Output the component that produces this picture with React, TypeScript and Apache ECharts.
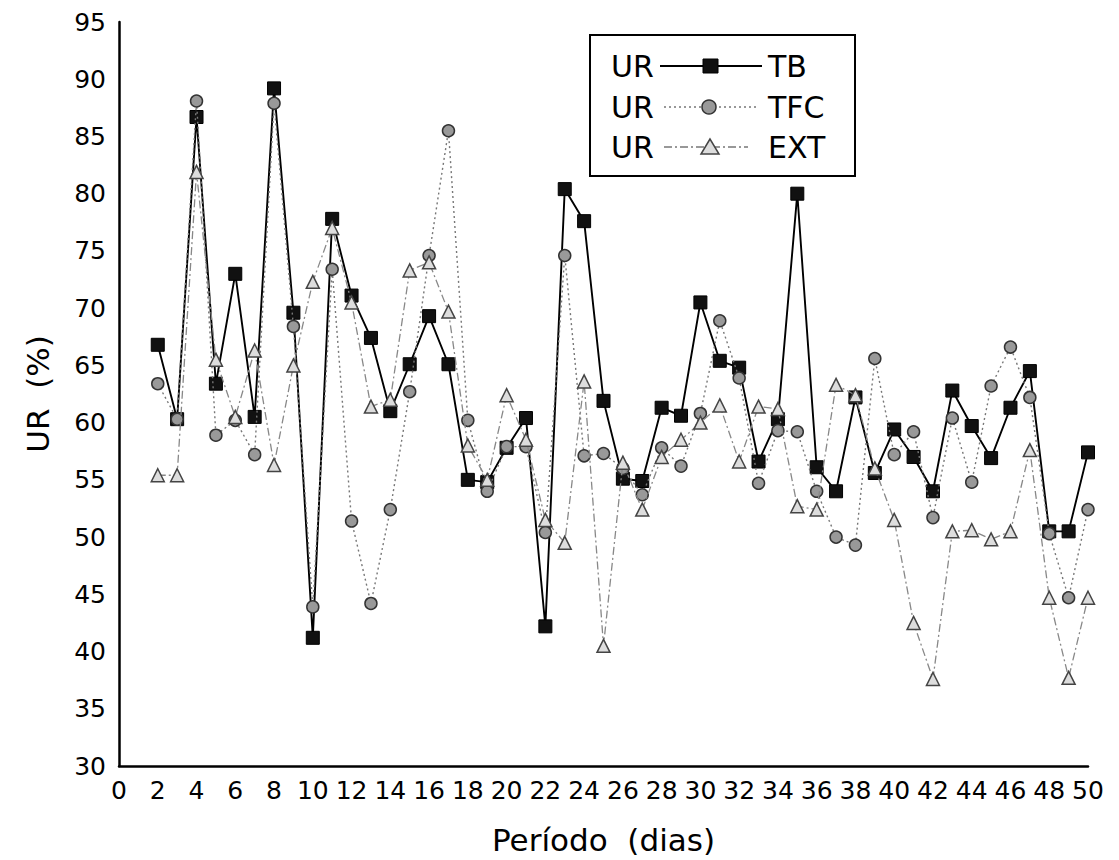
import React, { useEffect, useRef } from "react";
import * as echarts from "echarts";

const days = [2, 3, 4, 5, 6, 7, 8, 9, 10, 11, 12, 13, 14, 15, 16, 17, 18, 19, 20, 21, 22, 23, 24, 25, 26, 27, 28, 29, 30, 31, 32, 33, 34, 35, 36, 37, 38, 39, 40, 41, 42, 43, 44, 45, 46, 47, 48, 49, 50];

const urTB = [66.8, 60.3, 86.7, 63.4, 73.0, 60.5, 89.2, 69.6, 41.2, 77.8, 71.1, 67.4, 61.0, 65.1, 69.3, 65.1, 55.0, 54.8, 57.8, 60.4, 42.2, 80.4, 77.6, 61.9, 55.1, 54.9, 61.3, 60.6, 70.5, 65.4, 64.8, 56.6, 60.3, 80.0, 56.1, 54.0, 62.2, 55.6, 59.4, 57.0, 54.0, 62.8, 59.7, 56.9, 61.3, 64.5, 50.5, 50.5, 57.4];

const urTFC = [63.4, 60.3, 88.1, 58.9, 60.2, 57.2, 87.9, 68.4, 43.9, 73.4, 51.4, 44.2, 52.4, 62.7, 74.6, 85.5, 60.2, 54.0, 57.9, 57.9, 50.4, 74.6, 57.1, 57.3, 56.0, 53.7, 57.8, 56.2, 60.8, 68.9, 63.9, 54.7, 59.3, 59.2, 54.0, 50.0, 49.3, 65.6, 57.2, 59.2, 51.7, 60.4, 54.8, 63.2, 66.6, 62.2, 50.3, 44.7, 52.4];

const urEXT = [55.4, 55.4, 81.9, 65.5, 60.5, 66.3, 56.3, 65.0, 72.3, 77.0, 70.5, 61.4, 62.0, 73.3, 74.0, 69.7, 58.0, 55.0, 62.4, 58.5, 51.5, 49.5, 63.6, 40.5, 56.5, 52.4, 57.0, 58.5, 60.0, 61.5, 56.6, 61.4, 61.2, 52.7, 52.4, 63.3, 62.4, 56.0, 51.5, 42.5, 37.6, 50.5, 50.6, 49.8, 50.5, 57.6, 44.7, 37.7, 44.7];

const yTicks = { min: 30, max: 95, interval: 5 };
const xTicks = { min: 0, max: 50, interval: 2 };

const legendRows = [
  { left: "UR", right: "TB" },
  { left: "UR", right: "TFC" },
  { left: "UR", right: "EXT" },
];

const FONT = "DejaVu Sans";

export default function App() {
  const ref = useRef<HTMLDivElement>(null);

  useEffect(() => {
    document.body.style.margin = "0";
    if (!ref.current) return;
    const chart = echarts.init(ref.current, null, { renderer: "svg" });

    const pairs = (vals: number[]) => days.map((d, i) => [d, vals[i]]);

    const rowY = [66, 107, 147];
    const graphic: any[] = [
      {
        type: "rect",
        shape: { x: 590, y: 35, width: 265, height: 141 },
        style: { fill: "#fff", stroke: "#000", lineWidth: 2 },
        z: 100,
      },
    ];
    legendRows.forEach((r, i) => {
      graphic.push({
        type: "text",
        x: 611,
        y: rowY[i],
        style: { text: r.left, font: `30px "${FONT}"`, fill: "#000", textVerticalAlign: "middle" },
        z: 101,
      });
      graphic.push({
        type: "text",
        x: 768,
        y: rowY[i],
        style: { text: r.right, font: `30px "${FONT}"`, fill: "#000", textVerticalAlign: "middle" },
        z: 101,
      });
    });
    graphic.push({
      type: "line",
      shape: { x1: 660, y1: rowY[0], x2: 762, y2: rowY[0] },
      style: { stroke: "#000", lineWidth: 1.8 },
      z: 101,
    });
    graphic.push({
      type: "rect",
      shape: { x: 703, y: rowY[0] - 7, width: 15, height: 14 },
      style: { fill: "#111", stroke: "#000", lineWidth: 1 },
      z: 102,
    });
    graphic.push({
      type: "line",
      shape: { x1: 664, y1: rowY[1], x2: 758, y2: rowY[1] },
      style: { stroke: "#777", lineWidth: 1.4, lineDash: [2, 3] },
      z: 101,
    });
    graphic.push({
      type: "circle",
      shape: { cx: 709, cy: rowY[1], r: 7 },
      style: { fill: "#999", stroke: "#333", lineWidth: 1.5 },
      z: 102,
    });
    graphic.push({
      type: "line",
      shape: { x1: 664, y1: rowY[2], x2: 748, y2: rowY[2] },
      style: { stroke: "#777", lineWidth: 1.3, lineDash: [8, 3, 2, 3] },
      z: 101,
    });
    graphic.push({
      type: "polygon",
      shape: { points: [[710, rowY[2] - 8], [701, rowY[2] + 7], [719, rowY[2] + 7]] },
      style: { fill: "#ddd", stroke: "#444", lineWidth: 1.5 },
      z: 102,
    });

    chart.setOption({
      animation: false,
      backgroundColor: "#fff",
      textStyle: { fontFamily: FONT },
      grid: { left: 119, right: 31, top: 22, bottom: 91, containLabel: false },
      xAxis: {
        type: "value",
        min: xTicks.min,
        max: xTicks.max,
        interval: xTicks.interval,
        name: "Período  (dias)",
        nameLocation: "middle",
        nameGap: 58,
        nameTextStyle: { fontSize: 31, color: "#000", fontFamily: FONT },
        axisLine: { show: true, onZero: false, lineStyle: { color: "#000", width: 2.5 } },
        axisTick: { show: false },
        splitLine: { show: false },
        axisLabel: { fontSize: 25, color: "#000", margin: 12, fontFamily: FONT },
      },
      yAxis: {
        type: "value",
        min: yTicks.min,
        max: yTicks.max,
        interval: yTicks.interval,
        name: "UR  (%)",
        nameLocation: "middle",
        nameRotate: 90,
        nameGap: 66,
        nameTextStyle: { fontSize: 31, color: "#000", fontFamily: FONT },
        axisLine: { show: true, onZero: false, lineStyle: { color: "#000", width: 2.5 } },
        axisTick: { show: false },
        splitLine: { show: false },
        axisLabel: { fontSize: 25, color: "#000", margin: 13, fontFamily: FONT },
      },
      series: [
        {
          name: "TB",
          type: "line",
          data: pairs(urTB),
          symbol: "rect",
          symbolSize: 13,
          lineStyle: { color: "#000", width: 1.9 },
          itemStyle: { color: "#111", borderColor: "#000", borderWidth: 1 },
          z: 2,
        },
        {
          name: "TFC",
          type: "line",
          data: pairs(urTFC),
          symbol: "circle",
          symbolSize: 12,
          lineStyle: { color: "#777", width: 1.4, type: [2, 3] },
          itemStyle: { color: "#999", borderColor: "#333", borderWidth: 1.5 },
          z: 3,
        },
        {
          name: "EXT",
          type: "line",
          data: pairs(urEXT),
          symbol: "triangle",
          symbolSize: 13,
          lineStyle: { color: "#888", width: 1.3, type: [8, 3, 2, 3] },
          itemStyle: { color: "#ddd", borderColor: "#444", borderWidth: 1.5 },
          z: 4,
        },
      ],
      graphic,
    });

    return () => chart.dispose();
  }, []);

  return <div ref={ref} style={{ width: 1119, height: 860 }} />;
}
